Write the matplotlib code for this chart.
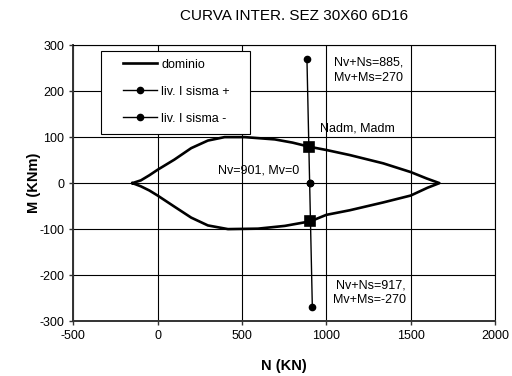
import matplotlib
matplotlib.use("Agg")
import matplotlib.pyplot as plt
from matplotlib.patches import Rectangle

plt.rcParams['font.family'] = ['Liberation Sans', 'DejaVu Sans']
plt.rcParams['axes.unicode_minus'] = False

# Interaction domain, upper branch left->right then lower branch right->left
dom_N = [-149, -99, -49, 0, 99, 199, 298, 397, 516, 695, 800, 900, 1000,
         1139, 1337, 1500, 1595, 1670,
         1600, 1500, 1337, 1139, 1000, 906, 754, 595, 417, 298, 199, 99, 0, -49, -99, -149]
dom_M = [0, 6, 17, 29, 51, 76, 92.5, 100, 100, 95, 88, 79, 72,
         61, 43, 24, 10, 0,
         -10, -27, -42, -59, -69, -83, -93, -99, -100, -92, -75, -51, -27, -16, -7, 0]

# Seismic load combinations (level I)
sp_N = [885, 901]
sp_M = [270, 0]
sm_N = [901, 917]
sm_M = [0, -270]

# Admissible points on the domain
adm_N = [896, 906]
adm_M = [79, -83]

x_ticks = [-500, 0, 500, 1000, 1500, 2000]
y_ticks = [-300, -200, -100, 0, 100, 200, 300]

fig = plt.figure(figsize=(5.12, 3.76), dpi=100)
ax = fig.add_axes([0.143, 0.146, 0.824, 0.734])

ax.set_xlim(-500, 2000)
ax.set_ylim(-300, 300)
ax.set_xticks(x_ticks)
ax.set_yticks(y_ticks)
ax.grid(True, color='black', linewidth=0.8)
ax.set_axisbelow(True)
ax.tick_params(axis='both', labelsize=9, direction='out', length=3, width=1,
               colors='#333333', labelcolor='black')
for side in ('top', 'right'):
    ax.spines[side].set_linewidth(0.8)
    ax.spines[side].set_color('black')
for side in ('left', 'bottom'):
    ax.spines[side].set_linewidth(1.4)
    ax.spines[side].set_color('#333333')

h_dom, = ax.plot(dom_N, dom_M, color='black', linewidth=1.9, zorder=3,
                 solid_joinstyle='round')
h_sp, = ax.plot(sp_N, sp_M, color='black', linewidth=1.0, marker='o',
                markersize=4.5, zorder=4)
h_sm, = ax.plot(sm_N, sm_M, color='black', linewidth=1.0, marker='o',
                markersize=4.5, zorder=4)
ax.plot(adm_N, adm_M, linestyle='none', marker='s', markersize=6.5,
        color='black', markeredgewidth=1.2, zorder=5)

ax.text(1455, 245, "Nv+Ns=885,\nMv+Ms=270", fontsize=9, ha='right', va='center',
        multialignment='right', linespacing=1.35, zorder=6)
ax.text(962, 119, "Nadm, Madm", fontsize=9, ha='left', va='center', zorder=6)
ax.text(840, 28, "Nv=901, Mv=0", fontsize=9, ha='right', va='center', zorder=6)
ax.text(1472, -238, "Nv+Ns=917,\nMv+Ms=-270", fontsize=9, ha='right', va='center',
        multialignment='right', linespacing=1.35, zorder=6)

# Legend box
ax.add_patch(Rectangle((0.066, 0.678), 0.353, 0.301, transform=ax.transAxes,
                       facecolor='white', edgecolor='black', linewidth=0.8,
                       zorder=6))
leg = ax.legend([h_dom, h_sp, h_sm], ['dominio', 'liv. I sisma +', 'liv. I sisma -'],
                loc='upper left', bbox_to_anchor=(0.118, 0.951), frameon=False,
                fontsize=9, borderpad=0, borderaxespad=0, handlelength=2.7,
                handletextpad=0.35, labelspacing=1.2)
leg.set_zorder(7)

ax.set_xlabel('N (KN)', fontsize=10.5, fontweight='bold', labelpad=12)
ax.set_ylabel('M (KNm)', fontsize=10.5, fontweight='bold', labelpad=-1)
fig.text(294 / 512, 1 - 15.5 / 376, 'CURVA INTER. SEZ 30X60 6D16', fontsize=11,
         ha='center', va='center')

fig.savefig('out.png', dpi=100)
